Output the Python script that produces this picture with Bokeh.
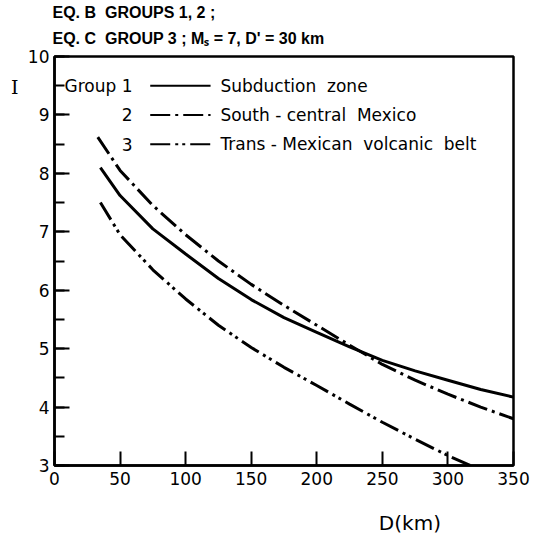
from bokeh.plotting import figure
from bokeh.models import (Range1d, SingleIntervalTicker, FixedTicker, Label, Title,
                          LinearAxis, CustomJSTickFormatter)
from bokeh.embed import file_html
from bokeh.resources import INLINE

# ---- data ----
d1 = [35, 50, 75, 100, 125, 150, 175, 200, 225, 250, 275, 300, 325, 350]
i1 = [8.10, 7.62, 7.05, 6.62, 6.20, 5.84, 5.53, 5.28, 5.03, 4.80, 4.62, 4.46, 4.30, 4.17]
d2 = [33, 50, 75, 100, 125, 150, 175, 200, 225, 250, 275, 300, 325, 350]
i2 = [8.62, 8.05, 7.45, 6.95, 6.50, 6.10, 5.74, 5.40, 5.06, 4.73, 4.46, 4.22, 4.00, 3.80]
d3 = [35, 50, 75, 100, 125, 150, 175, 200, 225, 250, 275, 300, 317]
i3 = [7.50, 6.95, 6.35, 5.85, 5.40, 5.02, 4.68, 4.37, 4.05, 3.74, 3.45, 3.17, 3.00]

NB = "\u00a0"
group_labels = ["Group 1", "2", "3"]
region_labels = ["Subduction" + NB * 2 + "zone",
                 "South" + NB + "-" + NB + "central" + NB * 2 + "Mexico",
                 "Trans" + NB + "-" + NB + "Mexican" + NB * 2 + "volcanic" + NB * 2 + "belt"]
header_lines = ["EQ. B" + NB * 2 + "GROUPS 1, 2 ;",
                "EQ. C" + NB * 2 + "GROUP 3 ;" + NB + "M\u209b = 7, D' = 30 km"]
y_title = "I"
x_title = "D(km)"
x_ticks_interval = 50
y_ticks_interval = 1

# ---- styles ----
dashes = ["solid", "20 5 3 5", "20 5 3 4 3 5"]
FONT = "DejaVu Sans"

p = figure(width=535, height=537, output_backend="svg", toolbar_location=None,
           x_range=Range1d(0, 350), y_range=Range1d(3, 10),
           min_border_left=54, min_border_right=22, min_border_top=55, min_border_bottom=72)
p.xgrid.visible = False
p.ygrid.visible = False
p.outline_line_color = "black"
p.outline_line_width = 2.5
p.background_fill_color = "white"
p.border_fill_color = "white"

for ax in (p.xaxis[0], p.yaxis[0]):
    ax.axis_line_width = 2.5
    ax.major_tick_line_width = 2
    ax.minor_tick_line_width = 2
    ax.major_tick_out = 0
    ax.minor_tick_out = 0
    ax.major_label_text_font = FONT
    ax.major_label_text_font_size = "17px"
    ax.major_label_text_color = "black"

p.xaxis[0].ticker = SingleIntervalTicker(interval=x_ticks_interval, num_minor_ticks=0)
p.xaxis[0].major_tick_in = 14
p.xaxis[0].major_label_standoff = 6
p.yaxis[0].ticker = SingleIntervalTicker(interval=y_ticks_interval, num_minor_ticks=2)
p.yaxis[0].major_tick_in = 15
p.yaxis[0].minor_tick_in = 10
p.yaxis[0].major_label_standoff = 5

series = [(d1, i1), (d2, i2), (d3, i3)]
for (dx, iy), dash in zip(series, dashes):
    p.line(dx, iy, line_color="black", line_width=3, line_dash=dash, line_cap="butt")

# ---- legend (drawn by hand to match the original layout) ----
row_y = [9.5, 9.0, 8.5]
for g, r, dash, y in zip(group_labels, region_labels, dashes, row_y):
    p.add_layout(Label(x=59.5, y=y, text=g, text_align="right", text_baseline="middle",
                       text_font=FONT, text_font_size="17px", text_color="black"))
    p.line([73, 119], [y, y], line_color="black", line_width=2, line_dash=dash, line_cap="butt")
    p.add_layout(Label(x=126.5, y=y, text=r, text_align="left", text_baseline="middle",
                       text_font=FONT, text_font_size="17px", text_color="black"))

# ---- headers (titles stack outward from the frame) ----
header_style = [dict(standoff=16, vertical_align="top"),     # line nearest the frame
                dict(standoff=2, vertical_align="bottom")]   # outer line
for txt, st in zip(reversed(header_lines), header_style):
    p.add_layout(Title(text=txt, align="left", offset=-2,
                       text_font="Liberation Sans", text_font_size="16px",
                       text_font_style="bold", text_color="black", **st), "above")

# ---- axis titles as single-tick helper axes placed off-centre ----
def title_axis(pos, text, standoff, font, size):
    ax = LinearAxis(ticker=FixedTicker(ticks=[pos]),
                    formatter=CustomJSTickFormatter(code="return %r;" % text),
                    axis_line_color=None, major_tick_line_color=None,
                    minor_tick_line_color=None, major_label_standoff=standoff,
                    major_label_text_font=font, major_label_text_font_size=size,
                    major_label_text_color="black")
    return ax

p.add_layout(title_axis(9.47, y_title, 0, "DejaVu Serif", "19px"), "left")
p.add_layout(title_axis(271, x_title, 17, FONT, "20px"), "below")

open("out.html", "w").write(file_html(p, INLINE))
